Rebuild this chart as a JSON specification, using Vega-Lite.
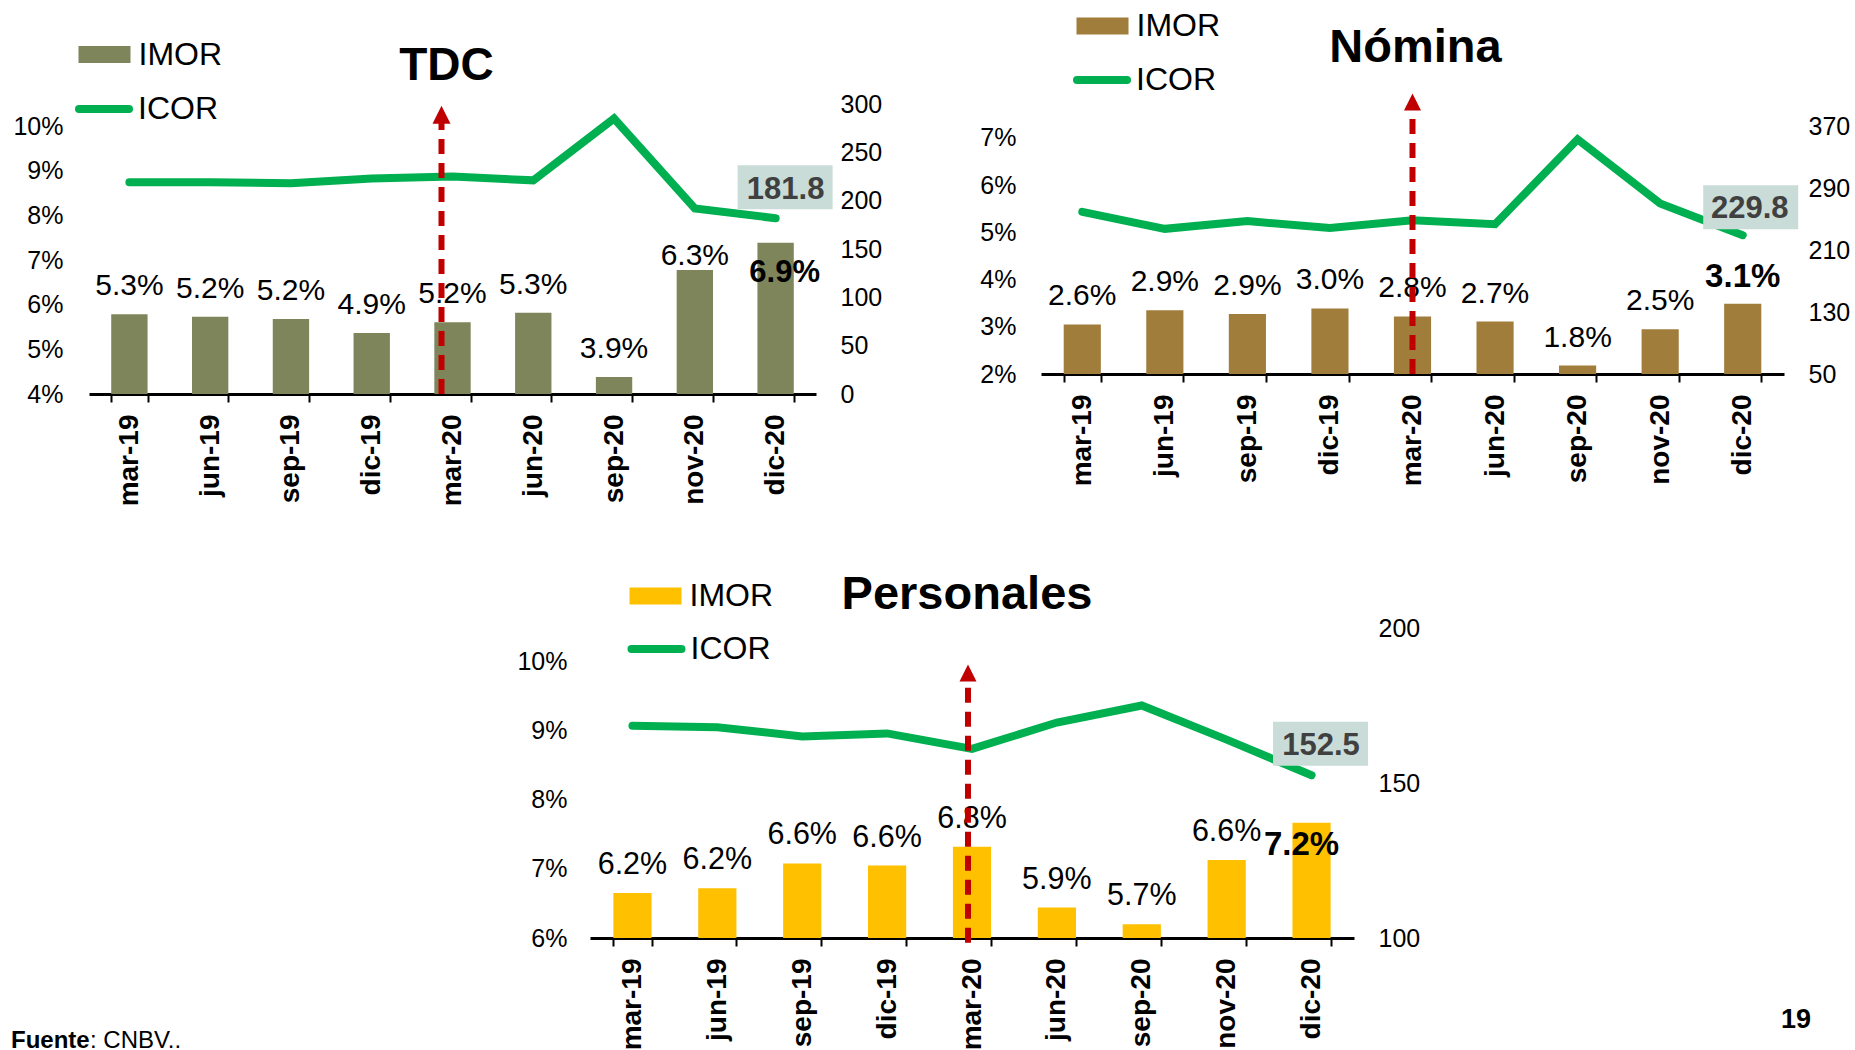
{
  "$schema": "https://vega.github.io/schema/vega-lite/v6.json",
  "padding": {"left": 11, "top": 0, "right": 0, "bottom": 0},
  "background": "white",
  "config": {
    "view": {"stroke": null},
    "font": "Liberation Sans",
    "axis": {"grid": false, "labelFont": "Liberation Sans"},
    "legend": {"labelFont": "Liberation Sans"},
    "title": {"font": "Liberation Sans"}
  },
  "datasets": {
    "imor_icor": [
      {"panel": "TDC", "date": "mar-19", "imor": 5.3, "imor_bar": 5.79, "icor": 219},
      {"panel": "TDC", "date": "jun-19", "imor": 5.2, "imor_bar": 5.73, "icor": 219},
      {"panel": "TDC", "date": "sep-19", "imor": 5.2, "imor_bar": 5.68, "icor": 218},
      {"panel": "TDC", "date": "dic-19", "imor": 4.9, "imor_bar": 5.37, "icor": 223},
      {"panel": "TDC", "date": "mar-20", "imor": 5.2, "imor_bar": 5.61, "icor": 225},
      {"panel": "TDC", "date": "jun-20", "imor": 5.3, "imor_bar": 5.82, "icor": 221},
      {"panel": "TDC", "date": "sep-20", "imor": 3.9, "imor_bar": 4.38, "icor": 285},
      {"panel": "TDC", "date": "nov-20", "imor": 6.3, "imor_bar": 6.78, "icor": 192},
      {"panel": "TDC", "date": "dic-20", "imor": 6.9, "imor_bar": 7.39, "icor": 181.8},
      {"panel": "Nomina", "date": "mar-19", "imor": 2.6, "imor_bar": 3.05, "icor": 260},
      {"panel": "Nomina", "date": "jun-19", "imor": 2.9, "imor_bar": 3.35, "icor": 238},
      {"panel": "Nomina", "date": "sep-19", "imor": 2.9, "imor_bar": 3.27, "icor": 248},
      {"panel": "Nomina", "date": "dic-19", "imor": 3.0, "imor_bar": 3.39, "icor": 239},
      {"panel": "Nomina", "date": "mar-20", "imor": 2.8, "imor_bar": 3.22, "icor": 249},
      {"panel": "Nomina", "date": "jun-20", "imor": 2.7, "imor_bar": 3.11, "icor": 244},
      {"panel": "Nomina", "date": "sep-20", "imor": 1.8, "imor_bar": 2.18, "icor": 354},
      {"panel": "Nomina", "date": "nov-20", "imor": 2.5, "imor_bar": 2.95, "icor": 271},
      {"panel": "Nomina", "date": "dic-20", "imor": 3.1, "imor_bar": 3.49, "icor": 229.8},
      {"panel": "Personales", "date": "mar-19", "imor": 6.2, "imor_bar": 6.65, "icor": 168.5},
      {"panel": "Personales", "date": "jun-19", "imor": 6.2, "imor_bar": 6.72, "icor": 168},
      {"panel": "Personales", "date": "sep-19", "imor": 6.6, "imor_bar": 7.08, "icor": 165},
      {"panel": "Personales", "date": "dic-19", "imor": 6.6, "imor_bar": 7.05, "icor": 166},
      {"panel": "Personales", "date": "mar-20", "imor": 6.8, "imor_bar": 7.32, "icor": 161},
      {"panel": "Personales", "date": "jun-20", "imor": 5.9, "imor_bar": 6.44, "icor": 169.5},
      {"panel": "Personales", "date": "sep-20", "imor": 5.7, "imor_bar": 6.2, "icor": 175},
      {"panel": "Personales", "date": "nov-20", "imor": 6.6, "imor_bar": 7.13, "icor": 164},
      {"panel": "Personales", "date": "dic-20", "imor": 7.2, "imor_bar": 7.67, "icor": 152.5}
    ],
    "notes": [{"bold": "Fuente", "rest": ": CNBV..", "page": "19"}]
  },
  "bounds": "flush",
  "align": "none",
  "spacing": 524,
  "resolve": {"scale": {"fill": "independent", "stroke": "independent"}, "legend": {"fill": "independent", "stroke": "independent"}},
  "vconcat": [
    {
      "bounds": "flush",
      "align": "none",
      "spacing": 225,
      "resolve": {"scale": {"fill": "independent", "stroke": "independent"}, "legend": {"fill": "independent", "stroke": "independent"}},
      "hconcat": [
        {
          "width": 727, "height": 290,
          "data": {"name": "imor_icor"},
          "transform": [{"filter": "datum.panel === 'TDC'"}, {"calculate": "format(datum.imor, '.1f') + '%'", "as": "imor_txt"}],
          "title": {"text": "TDC", "fontSize": 46, "fontWeight": "bold", "color": "black", "anchor": "middle", "frame": "group", "baseline": "alphabetic", "offset": -97, "dx": -6},
          "encoding": {
            "x": {"field": "date", "type": "nominal",
              "scale": {"domain": ["mar-19", "jun-19", "sep-19", "dic-19", "mar-20", "jun-20", "sep-20", "nov-20", "dic-20"], "paddingInner": 0.55, "paddingOuter": 0.275},
              "axis": {"title": null, "labelAngle": 270, "labelFontSize": 28, "labelFontWeight": "bold", "labelColor": "black", "labelPadding": 12, "tickBand": "extent", "tickSize": 8, "tickWidth": 2, "tickColor": "black", "domainColor": "black", "domainWidth": 3, "labelOverlap": false}}
          },
          "resolve": {"scale": {"y": "independent"}},
          "layer": [
            {"layer": [
              {"mark": {"type": "bar"},
               "encoding": {
                 "y": {"field": "imor_bar", "type": "quantitative", "scale": {"domain": [4, 10.5]},
                   "axis": {"orient": "left", "values": [4, 5, 6, 7, 8, 9, 10], "labelExpr": "datum.value + '%'", "domain": false, "ticks": false, "grid": false, "labelFontSize": 25, "labelPadding": 26, "labelColor": "black", "title": null}},
                 "y2": {"datum": 4},
                 "fill": {"datum": "IMOR", "type": "nominal", "scale": {"range": ["#7F855A"]},
                   "legend": {"orient": "none", "legendX": -10.5, "legendY": -75.5, "title": null, "padding": 0, "labelFontSize": 32, "labelColor": "black", "labelOffset": 8, "symbolType": "M-1,-0.33L1,-0.33L1,0.33L-1,0.33Z", "symbolSize": 2704, "symbolStrokeWidth": 0}}
               }},
              {"transform": [{"filter": "datum.date !== 'nov-20' && datum.date !== 'dic-20'"}],
               "mark": {"type": "text", "fontSize": 30, "baseline": "alphabetic", "dy": -19, "color": "black"},
               "encoding": {"y": {"field": "imor_bar", "type": "quantitative", "scale": {"domain": [4, 10.5]}}, "text": {"field": "imor_txt"}}},
              {"transform": [{"filter": "datum.date === 'nov-20'"}],
               "mark": {"type": "text", "fontSize": 30, "baseline": "alphabetic", "dy": -5, "color": "black"},
               "encoding": {"y": {"field": "imor_bar", "type": "quantitative", "scale": {"domain": [4, 10.5]}}, "text": {"field": "imor_txt"}}},
              {"transform": [{"filter": "datum.date === 'dic-20'"}],
               "mark": {"type": "text", "fontSize": 31, "fontWeight": "bold", "baseline": "alphabetic", "dy": 39, "dx": 9, "color": "black"},
               "encoding": {"y": {"field": "imor_bar", "type": "quantitative", "scale": {"domain": [4, 10.5]}}, "text": {"field": "imor_txt"}}}
            ]},
            {"layer": [
              {"mark": {"type": "line", "strokeWidth": 8, "strokeCap": "round", "strokeJoin": "miter"},
               "encoding": {
                 "y": {"field": "icor", "type": "quantitative", "scale": {"domain": [0, 300]},
                   "axis": {"orient": "right", "values": [0, 50, 100, 150, 200, 250, 300], "domain": false, "ticks": false, "grid": false, "labelFontSize": 25, "labelPadding": 24, "labelColor": "black", "title": null}},
                 "stroke": {"datum": "ICOR", "type": "nominal", "scale": {"range": ["#00B050"]},
                   "legend": {"orient": "none", "legendX": -14, "legendY": -24, "title": null, "padding": 0, "labelFontSize": 32, "labelColor": "black", "labelOffset": 5, "symbolType": "stroke", "symbolSize": 2500, "symbolStrokeWidth": 8, "encode": {"symbols": {"update": {"strokeCap": {"value": "round"}}}}}}
               }},
              {"transform": [{"filter": "datum.date === 'dic-20'"}],
               "mark": {"type": "point", "shape": "M-1,-0.463L1,-0.463L1,0.463L-1,0.463Z", "size": 9025, "filled": true, "fill": "#C9DCD7", "opacity": 1, "strokeWidth": 0, "xOffset": 9.5, "yOffset": -31},
               "encoding": {"y": {"field": "icor", "type": "quantitative", "scale": {"domain": [0, 300]}}}},
              {"transform": [{"filter": "datum.date === 'dic-20'"}],
               "mark": {"type": "text", "fontSize": 31, "fontWeight": "bold", "color": "#404040", "baseline": "alphabetic", "dx": 10, "dy": -19},
               "encoding": {"y": {"field": "icor", "type": "quantitative", "scale": {"domain": [0, 300]}}, "text": {"field": "icor", "type": "quantitative", "format": ".1f"}}}
            ]},
            {"transform": [{"filter": "datum.date === 'mar-20'"}],
             "layer": [
              {"mark": {"type": "rule", "color": "#C00000", "strokeWidth": 6, "strokeDash": [15, 9], "xOffset": -11},
               "encoding": {"y": {"datum": 4, "type": "quantitative", "scale": {"domain": [4, 10.5]}, "axis": null}, "y2": {"datum": 10.1}}},
              {"mark": {"type": "point", "shape": "M0,-1L1,1L-1,1Z", "size": 324, "filled": true, "fill": "#C00000", "opacity": 1, "strokeWidth": 0, "xOffset": -11},
               "encoding": {"y": {"datum": 10.26, "type": "quantitative", "scale": {"domain": [4, 10.5]}, "axis": null}}}
            ]}
          ]
        },
        {
          "width": 743, "height": 270,
          "data": {"name": "imor_icor"},
          "transform": [{"filter": "datum.panel === 'Nomina'"}, {"calculate": "format(datum.imor, '.1f') + '%'", "as": "imor_txt"}],
          "title": {"text": "Nómina", "fontSize": 47, "fontWeight": "bold", "color": "black", "anchor": "middle", "frame": "group", "baseline": "alphabetic", "offset": -109, "dx": 3},
          "encoding": {
            "x": {"field": "date", "type": "nominal",
              "scale": {"domain": ["mar-19", "jun-19", "sep-19", "dic-19", "mar-20", "jun-20", "sep-20", "nov-20", "dic-20"], "paddingInner": 0.55, "paddingOuter": 0.275},
              "axis": {"title": null, "labelAngle": 270, "labelFontSize": 28, "labelFontWeight": "bold", "labelColor": "black", "labelPadding": 12, "tickBand": "extent", "tickSize": 8, "tickWidth": 2, "tickColor": "black", "domainColor": "black", "domainWidth": 3, "labelOverlap": false}}
          },
          "resolve": {"scale": {"y": "independent"}},
          "layer": [
            {"layer": [
              {"mark": {"type": "bar"},
               "encoding": {
                 "y": {"field": "imor_bar", "type": "quantitative", "scale": {"domain": [2, 7.72]},
                   "axis": {"orient": "left", "values": [2, 3, 4, 5, 6, 7], "labelExpr": "datum.value + '%'", "domain": false, "ticks": false, "grid": false, "labelFontSize": 25, "labelPadding": 25, "labelColor": "black", "title": null}},
                 "y2": {"datum": 2},
                 "fill": {"datum": "IMOR", "type": "nominal", "scale": {"range": ["#A07D3B"]},
                   "legend": {"orient": "none", "legendX": 35.5, "legendY": -104, "title": null, "padding": 0, "labelFontSize": 32, "labelColor": "black", "labelOffset": 8, "symbolType": "M-1,-0.33L1,-0.33L1,0.33L-1,0.33Z", "symbolSize": 2704, "symbolStrokeWidth": 0}}
               }},
              {"transform": [{"filter": "datum.date !== 'dic-20'"}],
               "mark": {"type": "text", "fontSize": 30, "baseline": "alphabetic", "dy": -19, "color": "black"},
               "encoding": {"y": {"field": "imor_bar", "type": "quantitative", "scale": {"domain": [2, 7.72]}}, "text": {"field": "imor_txt"}}},
              {"transform": [{"filter": "datum.date === 'dic-20'"}],
               "mark": {"type": "text", "fontSize": 33, "fontWeight": "bold", "baseline": "alphabetic", "dy": -17, "color": "black"},
               "encoding": {"y": {"field": "imor_bar", "type": "quantitative", "scale": {"domain": [2, 7.72]}}, "text": {"field": "imor_txt"}}}
            ]},
            {"layer": [
              {"mark": {"type": "line", "strokeWidth": 8, "strokeCap": "round", "strokeJoin": "miter"},
               "encoding": {
                 "y": {"field": "icor", "type": "quantitative", "scale": {"domain": [50, 399.7]},
                   "axis": {"orient": "right", "values": [50, 130, 210, 290, 370], "domain": false, "ticks": false, "grid": false, "labelFontSize": 25, "labelPadding": 24, "labelColor": "black", "title": null}},
                 "stroke": {"datum": "ICOR", "type": "nominal", "scale": {"range": ["#00B050"]},
                   "legend": {"orient": "none", "legendX": 32, "legendY": -53, "title": null, "padding": 0, "labelFontSize": 32, "labelColor": "black", "labelOffset": 5, "symbolType": "stroke", "symbolSize": 2500, "symbolStrokeWidth": 8, "encode": {"symbols": {"update": {"strokeCap": {"value": "round"}}}}}}
               }},
              {"transform": [{"filter": "datum.date === 'dic-20'"}],
               "mark": {"type": "point", "shape": "M-1,-0.463L1,-0.463L1,0.463L-1,0.463Z", "size": 9025, "filled": true, "fill": "#C9DCD7", "opacity": 1, "strokeWidth": 0, "xOffset": 8, "yOffset": -28},
               "encoding": {"y": {"field": "icor", "type": "quantitative", "scale": {"domain": [50, 399.7]}}}},
              {"transform": [{"filter": "datum.date === 'dic-20'"}],
               "mark": {"type": "text", "fontSize": 31, "fontWeight": "bold", "color": "#404040", "baseline": "alphabetic", "dx": 7, "dy": -17},
               "encoding": {"y": {"field": "icor", "type": "quantitative", "scale": {"domain": [50, 399.7]}}, "text": {"field": "icor", "type": "quantitative", "format": ".1f"}}}
            ]},
            {"transform": [{"filter": "datum.date === 'mar-20'"}],
             "layer": [
              {"mark": {"type": "rule", "color": "#C00000", "strokeWidth": 6, "strokeDash": [15, 9]},
               "encoding": {"y": {"datum": 2, "type": "quantitative", "scale": {"domain": [2, 7.72]}, "axis": null}, "y2": {"datum": 7.59}}},
              {"mark": {"type": "point", "shape": "M0,-1L1,1L-1,1Z", "size": 289, "filled": true, "fill": "#C00000", "opacity": 1, "strokeWidth": 0},
               "encoding": {"y": {"datum": 7.76, "type": "quantitative", "scale": {"domain": [2, 7.72]}, "axis": null}}}
            ]}
          ]
        }
      ]
    },
    {
      "bounds": "flush",
      "align": "none",
      "spacing": 20,
      "resolve": {"scale": {"fill": "independent", "stroke": "independent"}, "legend": {"fill": "independent", "stroke": "independent"}},
      "hconcat": [
        {
          "width": 481, "height": 310,
          "data": {"name": "notes"},
          "layer": [
            {"mark": {"type": "text", "fontSize": 24, "fontWeight": "bold", "align": "left", "baseline": "alphabetic", "dx": -78, "dy": 110, "color": "black"},
             "encoding": {"x": {"datum": 0, "type": "quantitative", "scale": {"domain": [0, 1]}, "axis": null}, "y": {"datum": 0, "type": "quantitative", "scale": {"domain": [0, 1]}, "axis": null}, "text": {"field": "bold"}}},
            {"mark": {"type": "text", "fontSize": 24, "align": "left", "baseline": "alphabetic", "dx": 1, "dy": 110, "color": "black"},
             "encoding": {"x": {"datum": 0, "type": "quantitative", "scale": {"domain": [0, 1]}, "axis": null}, "y": {"datum": 0, "type": "quantitative", "scale": {"domain": [0, 1]}, "axis": null}, "text": {"field": "rest"}}}
          ]
        },
        {
          "width": 764, "height": 310,
          "data": {"name": "imor_icor"},
          "transform": [{"filter": "datum.panel === 'Personales'"}, {"calculate": "format(datum.imor, '.1f') + '%'", "as": "imor_txt"}],
          "title": {"text": "Personales", "fontSize": 47, "fontWeight": "bold", "color": "black", "anchor": "middle", "frame": "group", "baseline": "alphabetic", "offset": -86, "dx": -5},
          "encoding": {
            "x": {"field": "date", "type": "nominal",
              "scale": {"domain": ["mar-19", "jun-19", "sep-19", "dic-19", "mar-20", "jun-20", "sep-20", "nov-20", "dic-20"], "paddingInner": 0.55, "paddingOuter": 0.275},
              "axis": {"title": null, "labelAngle": 270, "labelFontSize": 28, "labelFontWeight": "bold", "labelColor": "black", "labelPadding": 12, "tickBand": "extent", "tickSize": 8, "tickWidth": 2, "tickColor": "black", "domainColor": "black", "domainWidth": 3, "labelOverlap": false}}
          },
          "resolve": {"scale": {"y": "independent"}},
          "layer": [
            {"layer": [
              {"mark": {"type": "bar"},
               "encoding": {
                 "y": {"field": "imor_bar", "type": "quantitative", "scale": {"domain": [6, 10.49]},
                   "axis": {"orient": "left", "values": [6, 7, 8, 9, 10], "labelExpr": "datum.value + '%'", "domain": false, "ticks": false, "grid": false, "labelFontSize": 25, "labelPadding": 23, "labelColor": "black", "title": null}},
                 "y2": {"datum": 6},
                 "fill": {"datum": "IMOR", "type": "nominal", "scale": {"range": ["#FFC000"]},
                   "legend": {"orient": "none", "legendX": 39.5, "legendY": -58, "title": null, "padding": 0, "labelFontSize": 32, "labelColor": "black", "labelOffset": 8, "symbolType": "M-1,-0.33L1,-0.33L1,0.33L-1,0.33Z", "symbolSize": 2704, "symbolStrokeWidth": 0}}
               }},
              {"transform": [{"filter": "datum.date !== 'dic-20'"}],
               "mark": {"type": "text", "fontSize": 30.5, "baseline": "alphabetic", "dy": -19, "color": "black"},
               "encoding": {"y": {"field": "imor_bar", "type": "quantitative", "scale": {"domain": [6, 10.49]}}, "text": {"field": "imor_txt"}}},
              {"transform": [{"filter": "datum.date === 'dic-20'"}],
               "mark": {"type": "text", "fontSize": 33, "fontWeight": "bold", "baseline": "alphabetic", "dy": 32, "dx": -10, "color": "black"},
               "encoding": {"y": {"field": "imor_bar", "type": "quantitative", "scale": {"domain": [6, 10.49]}}, "text": {"field": "imor_txt"}}}
            ]},
            {"layer": [
              {"mark": {"type": "line", "strokeWidth": 8, "strokeCap": "round", "strokeJoin": "miter"},
               "encoding": {
                 "y": {"field": "icor", "type": "quantitative", "scale": {"domain": [100, 200]},
                   "axis": {"orient": "right", "values": [100, 150, 200], "domain": false, "ticks": false, "grid": false, "labelFontSize": 25, "labelPadding": 24, "labelColor": "black", "title": null}},
                 "stroke": {"datum": "ICOR", "type": "nominal", "scale": {"range": ["#00B050"]},
                   "legend": {"orient": "none", "legendX": 37.5, "legendY": -8, "title": null, "padding": 0, "labelFontSize": 32, "labelColor": "black", "labelOffset": 5, "symbolType": "stroke", "symbolSize": 2500, "symbolStrokeWidth": 8, "encode": {"symbols": {"update": {"strokeCap": {"value": "round"}}}}}}
               }},
              {"transform": [{"filter": "datum.date === 'dic-20'"}],
               "mark": {"type": "point", "shape": "M-1,-0.463L1,-0.463L1,0.463L-1,0.463Z", "size": 9025, "filled": true, "fill": "#C9DCD7", "opacity": 1, "strokeWidth": 0, "xOffset": 9, "yOffset": -31.5},
               "encoding": {"y": {"field": "icor", "type": "quantitative", "scale": {"domain": [100, 200]}}}},
              {"transform": [{"filter": "datum.date === 'dic-20'"}],
               "mark": {"type": "text", "fontSize": 31, "fontWeight": "bold", "color": "#404040", "baseline": "alphabetic", "dx": 9.5, "dy": -20},
               "encoding": {"y": {"field": "icor", "type": "quantitative", "scale": {"domain": [100, 200]}}, "text": {"field": "icor", "type": "quantitative", "format": ".1f"}}}
            ]},
            {"transform": [{"filter": "datum.date === 'mar-20'"}],
             "layer": [
              {"mark": {"type": "rule", "color": "#C00000", "strokeWidth": 6, "strokeDash": [15, 9], "xOffset": -4},
               "encoding": {"y": {"datum": 5.93, "type": "quantitative", "scale": {"domain": [6, 10.49]}, "axis": null}, "y2": {"datum": 9.73}}},
              {"mark": {"type": "point", "shape": "M0,-1L1,1L-1,1Z", "size": 289, "filled": true, "fill": "#C00000", "opacity": 1, "strokeWidth": 0, "xOffset": -4},
               "encoding": {"y": {"datum": 9.84, "type": "quantitative", "scale": {"domain": [6, 10.49]}, "axis": null}}}
            ]}
          ]
        },
        {
          "width": 422, "height": 310,
          "data": {"name": "notes"},
          "mark": {"type": "text", "fontSize": 27, "fontWeight": "bold", "align": "center", "baseline": "alphabetic", "dy": 90, "color": "black"},
          "encoding": {"x": {"datum": 1, "type": "quantitative", "scale": {"domain": [0, 1]}, "axis": null}, "y": {"datum": 0, "type": "quantitative", "scale": {"domain": [0, 1]}, "axis": null}, "text": {"field": "page"}}
        }
      ]
    }
  ]
}
